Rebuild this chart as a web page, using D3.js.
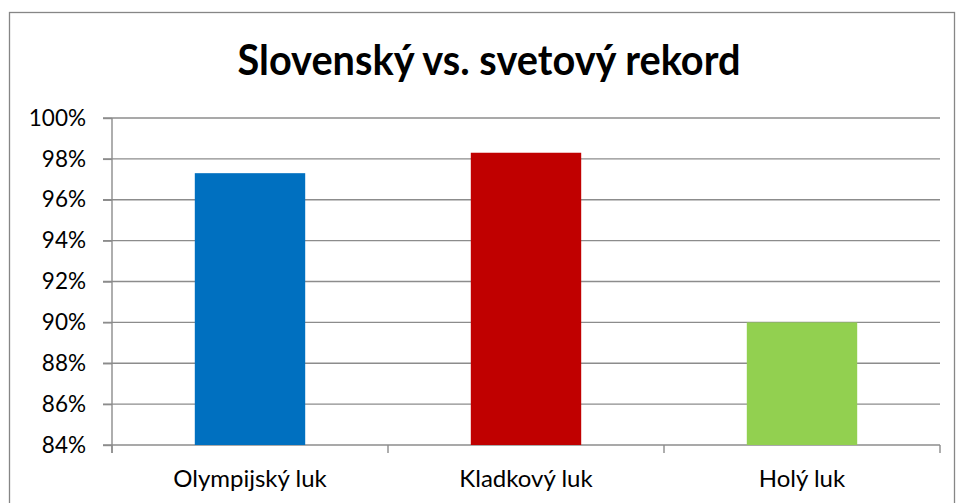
<!DOCTYPE html>
<html>
<head>
<meta charset="utf-8">
<script src="https://cdn.jsdelivr.net/npm/d3@7"></script>
<style>
  body { margin: 0; background: #fff; }
  svg { display: block; font-family: Lato, "Open Sans", sans-serif; }
</style>
</head>
<body>
<div id="chart"></div>
<script>
// chart data
const categories = ["Olympijský luk", "Kladkový luk", "Holý luk"];
const values = [97.3, 98.3, 90.0];
const barColors = ["#0070C0", "#C00000", "#92D050"];
const yTicks = [84, 86, 88, 90, 92, 94, 96, 98, 100];
const title = "Slovenský vs. svetový rekord";

const width = 956, height = 503;
const margin = { left: 112, right: 16, top: 118, bottom: 58 };

const svg = d3.select("#chart").append("svg")
    .attr("width", width)
    .attr("height", height);

// outer border of the chart area
svg.append("rect")
    .attr("x", 9.5).attr("y", 12.5)
    .attr("width", 945).attr("height", 500)
    .attr("fill", "none")
    .attr("stroke", "#868686")
    .attr("stroke-width", 1.3);

svg.append("text")
    .attr("x", 489).attr("y", 75)
    .attr("text-anchor", "middle")
    .attr("font-size", 42)
    .attr("font-weight", "bold")
    .attr("textLength", 503)
    .attr("lengthAdjust", "spacingAndGlyphs")
    .attr("fill", "#000")
    .text(title);

const x = d3.scaleBand()
    .domain(categories)
    .range([margin.left, width - margin.right])
    .paddingInner(0.6)
    .paddingOuter(0.3);

const y = d3.scaleLinear()
    .domain([84, 100])
    .range([height - margin.bottom, margin.top]);

// gridlines
svg.append("g")
    .selectAll("line")
    .data(yTicks)
    .join("line")
    .attr("x1", margin.left - 9)
    .attr("x2", width - margin.right)
    .attr("y1", d => y(d))
    .attr("y2", d => y(d))
    .attr("stroke", "#8c8c8c")
    .attr("stroke-width", 1.4);

// bars
svg.append("g")
    .selectAll("rect")
    .data(values)
    .join("rect")
    .attr("x", (d, i) => x(categories[i]))
    .attr("width", x.bandwidth())
    .attr("y", d => y(d))
    .attr("height", d => y(84) - y(d))
    .attr("fill", (d, i) => barColors[i]);

// y axis
const yAxis = svg.append("g")
    .attr("transform", `translate(${margin.left},0)`)
    .call(d3.axisLeft(y).tickValues(yTicks).tickSize(9).tickSizeOuter(0)
        .tickFormat(d => d + "%"));
yAxis.selectAll("path, line").attr("stroke", "#8c8c8c").attr("stroke-width", 1.4);
yAxis.select(".domain").attr("d", `M0,${y(100)}V${y(84) + 8}`);
yAxis.selectAll("text")
    .attr("x", -26)
    .attr("font-size", 22.5)
    .attr("font-family", "Lato, sans-serif")
    .attr("fill", "#000");

// x axis with ticks at category boundaries
const bottom = y(84);
const step = x.step();
const boundaries = d3.range(categories.length + 1).map(i => margin.left + i * step);
svg.append("g")
    .selectAll("line")
    .data(boundaries)
    .join("line")
    .attr("x1", d => d).attr("x2", d => d)
    .attr("y1", bottom).attr("y2", bottom + 8)
    .attr("stroke", "#8c8c8c")
    .attr("stroke-width", 1.4);

svg.append("g")
    .selectAll("text")
    .data(categories)
    .join("text")
    .attr("x", d => x(d) + x.bandwidth() / 2)
    .attr("y", 487)
    .attr("text-anchor", "middle")
    .attr("font-size", 24)
    .attr("fill", "#000")
    .text(d => d);
</script>
</body>
</html>
